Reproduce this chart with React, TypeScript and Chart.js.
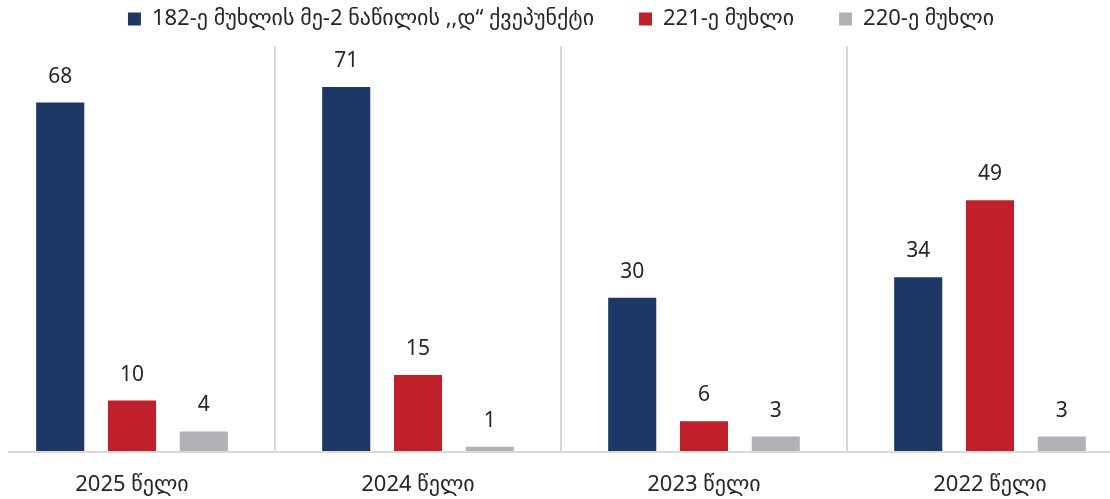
import React, { useEffect, useRef } from "react";
import { Chart, registerables } from "chart.js";

Chart.register(...registerables);

const categories = ["2025 წელი", "2024 წელი", "2023 წელი", "2022 წელი"];
const seriesNames = [
  "182-ე მუხლის მე-2 ნაწილის ,,დ“ ქვეპუნქტი",
  "221-ე მუხლი",
  "220-ე მუხლი",
];
const article182 = [68, 71, 30, 34];
const article221 = [10, 15, 6, 49];
const article220 = [4, 1, 3, 3];
const seriesColors = ["#1D3864", "#C0202A", "#B1B2B6"];

const FONT = "'Noto Sans', 'DejaVu Sans', sans-serif";
const TEXT = "#262626";
const LEGEND_PAD = 45;
const BASE_PAD = 8;
const LEGEND_HEIGHT = 46;

const valueLabels = {
  id: "valueLabels",
  afterDatasetsDraw(chart: any) {
    const ctx = chart.ctx;
    ctx.save();
    ctx.font = `21px ${FONT}`;
    ctx.fillStyle = TEXT;
    ctx.textAlign = "center";
    ctx.textBaseline = "middle";
    chart.data.datasets.forEach((ds: any, i: number) => {
      const meta = chart.getDatasetMeta(i);
      meta.data.forEach((bar: any, j: number) => {
        ctx.fillText(String(ds.data[j]), bar.x, bar.y - 26);
      });
    });
    ctx.restore();
  },
};

const baseline = {
  id: "baseline",
  afterDraw(chart: any) {
    const ctx = chart.ctx;
    const y = chart.chartArea.bottom;
    ctx.save();
    ctx.strokeStyle = "#D9D9D9";
    ctx.lineWidth = 2;
    ctx.beginPath();
    ctx.moveTo(19, y);
    ctx.lineTo(chart.width, y);
    ctx.stroke();
    ctx.restore();
  },
};

const legendSpacing = {
  id: "legendSpacing",
  beforeInit(chart: any) {
    const legend = chart.legend;
    if (!legend) return;
    const shift = LEGEND_PAD - BASE_PAD;
    const origFit = legend.fit;
    legend.fit = function () {
      origFit.call(this);
      this.height = LEGEND_HEIGHT;
    };
    const origDraw = legend.draw;
    legend.draw = function (...args: any[]) {
      const top = this.top;
      const bottom = this.bottom;
      const height = this.height;
      this.top = top - shift;
      this.height = height + 2 * shift;
      this.bottom = this.top + this.height;
      origDraw.apply(this, args);
      this.top = top;
      this.bottom = bottom;
      this.height = height;
    };
  },
};

export default function App() {
  const ref = useRef<HTMLCanvasElement | null>(null);
  useEffect(() => {
    if (!ref.current) return;
    const data = [article182, article221, article220];
    const chart = new Chart(ref.current, {
      type: "bar",
      data: {
        labels: categories,
        datasets: data.map((d, i) => ({
          label: seriesNames[i],
          data: d,
          backgroundColor: seriesColors[i],
          borderWidth: 0,
          categoryPercentage: 0.753,
          barPercentage: 0.67,
        })),
      },
      options: {
        animation: false,
        responsive: false,
        layout: { padding: { top: 0, bottom: 0, left: 0, right: 0 } },
        plugins: {
          legend: {
            position: "top",
            labels: {
              boxWidth: 13,
              boxHeight: 13,
              padding: LEGEND_PAD,
              color: TEXT,
              font: { size: 22, family: FONT },
            },
          },
          tooltip: { enabled: false },
        },
        scales: {
          x: {
            afterFit(scale: any) {
              scale.height = 47;
            },
            grid: {
              display: true,
              offset: true,
              drawTicks: false,
              color: "#D9D9D9",
              lineWidth: 2,
            },
            border: { display: false },
            ticks: {
              padding: 20,
              color: TEXT,
              font: { size: 22, family: FONT },
            },
          },
          y: {
            display: false,
            min: 0,
            max: 79,
          },
        },
      },
      plugins: [valueLabels, baseline, legendSpacing],
    });
    return () => chart.destroy();
  }, []);
  return (
    <div
      style={{
        position: "absolute",
        left: 0,
        top: 0,
        width: 1110,
        height: 499,
        overflow: "hidden",
        background: "#fff",
      }}
    >
      <div style={{ position: "absolute", left: -11, top: 0, width: 1144, height: 499 }}>
        <canvas ref={ref} width={1144} height={499} />
      </div>
    </div>
  );
}
